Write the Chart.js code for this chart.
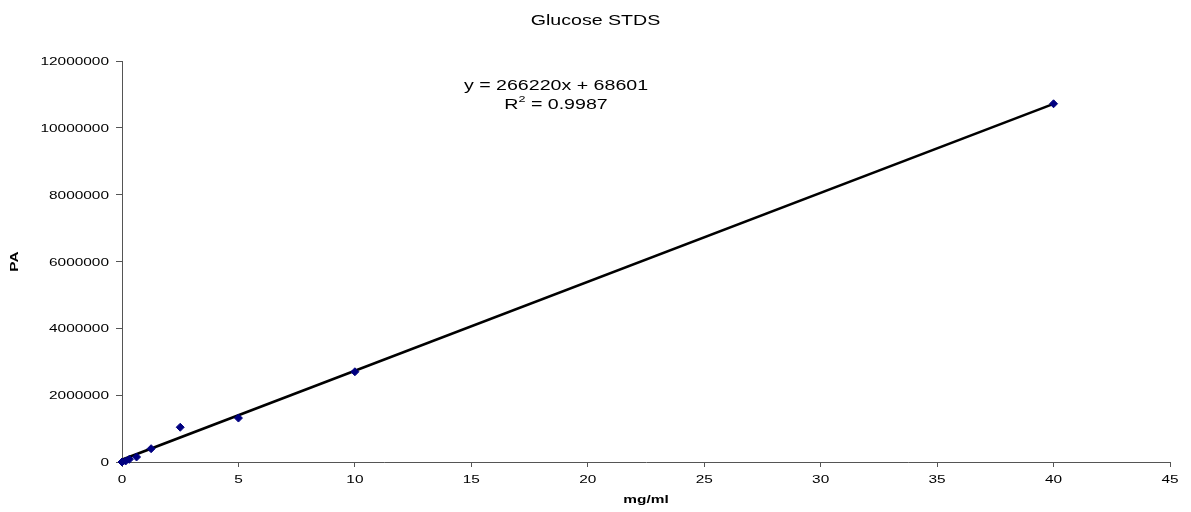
<!DOCTYPE html>
<html>
<head>
<meta charset="utf-8">
<script src="https://cdn.jsdelivr.net/npm/chart.js@4.4.0/dist/chart.umd.min.js"></script>
<style>
  html, body { margin: 0; padding: 0; background: #fff; }
  #wrap { width: 1191px; height: 512px; }
</style>
</head>
<body>
<div id="wrap"><canvas id="chart"></canvas></div>
<script>
// Standards: concentration (mg/ml) vs peak area
const conc = [0, 0.156, 0.3125, 0.625, 1.25, 2.5, 5, 10, 40];
const peakArea = [0, 30000, 80000, 150000, 398000, 1040000, 1315000, 2700000, 10720000];

// linear trendline reported on the chart
const slope = 266220;
const intercept = 68601;
const trendX = [0, 40];
const equationLines = ["y = 266220x + 68601", "R\u00b2 = 0.9987"];

const chartTitle = "Glucose STDS";
const xTitle = "mg/ml";
const yTitle = "PA";

const FONT = "'Liberation Sans', Arial, Helvetica, sans-serif";
const STRETCH = 1.4; // text in the original is drawn wide

const drawWide = (ctx, text, x, y, size, weight, align) => {
  ctx.save();
  ctx.font = `${weight} ${size}px ${FONT}`;
  ctx.fillStyle = "#000";
  ctx.textBaseline = "middle";
  ctx.translate(x, y);
  ctx.scale(STRETCH, 1);
  let w = ctx.measureText(text).width;
  let x0 = align === "right" ? -w : align === "center" ? -w / 2 : 0;
  ctx.textAlign = "left";
  ctx.fillText(text, x0, 0);
  ctx.restore();
};

const textPlugin = {
  id: "textPlugin",
  afterDraw(chart) {
    const ctx = chart.ctx;
    const area = chart.chartArea;
    const xs = chart.scales.x;
    const ys = chart.scales.y;

    // tick labels
    xs.ticks.forEach((t, i) => {
      drawWide(ctx, String(t.value), xs.getPixelForTick(i), area.bottom + 18, 11, "normal", "center");
    });
    ys.ticks.forEach((t, i) => {
      drawWide(ctx, String(t.value), area.left - 13, ys.getPixelForTick(i) + 1, 11, "normal", "right");
    });

    // titles
    drawWide(ctx, chartTitle, chart.width / 2, 21, 14, "normal", "center");
    drawWide(ctx, xTitle, (area.left + area.right) / 2, 500, 11, "bold", "center");
    ctx.save();
    ctx.translate(15, (area.top + area.bottom) / 2);
    ctx.rotate(-Math.PI / 2);
    drawWide(ctx, yTitle, 0, 0, 11, "bold", "center");
    ctx.restore();

    // equation
    const ex = 556;
    drawWide(ctx, equationLines[0], ex, 86, 14, "normal", "center");
    // R² line with raised 2
    ctx.save();
    ctx.font = `normal 14px ${FONT}`;
    const wR = ctx.measureText("R").width;
    const wRest = ctx.measureText(" = 0.9987").width;
    ctx.font = `normal 9px ${FONT}`;
    const w2 = ctx.measureText("2").width;
    ctx.restore();
    const total = (wR + w2 + wRest) * STRETCH;
    let sx = ex - total / 2;
    drawWide(ctx, "R", sx, 105, 14, "normal", "left");
    drawWide(ctx, "2", sx + wR * STRETCH, 100, 9, "normal", "left");
    drawWide(ctx, " = 0.9987", sx + (wR + w2) * STRETCH, 105, 14, "normal", "left");
  }
};

new Chart(document.getElementById("chart"), {
  type: "scatter",
  data: {
    datasets: [
      {
        label: "STDS",
        data: conc.map((x, i) => ({ x: x, y: peakArea[i] })),
        pointStyle: "rectRot",
        pointRadius: 4,
        backgroundColor: "#000080",
        borderColor: "#000080",
        borderWidth: 1,
        clip: false,
        order: 1
      },
      {
        label: "Linear",
        type: "line",
        data: trendX.map(x => ({ x: x, y: slope * x + intercept })),
        borderColor: "#000",
        borderWidth: 2.5,
        pointRadius: 0,
        fill: false,
        order: 2
      }
    ]
  },
  options: {
    responsive: true,
    maintainAspectRatio: false,
    animation: false,
    layout: { padding: { top: 61, right: 21, left: 0, bottom: 0 } },
    plugins: {
      legend: { display: false },
      tooltip: { enabled: false },
      title: { display: false }
    },
    scales: {
      x: {
        type: "linear",
        min: 0,
        max: 45,
        ticks: { stepSize: 5, display: false },
        grid: { drawOnChartArea: false, drawTicks: true, tickLength: 5, color: "#555" },
        border: { color: "#555", width: 1 },
        afterFit: s => { s.height = 50; }
      },
      y: {
        min: 0,
        max: 12000000,
        ticks: { stepSize: 2000000, display: false },
        grid: { drawOnChartArea: false, drawTicks: true, tickLength: 6, color: "#555" },
        border: { color: "#555", width: 1 },
        afterFit: s => { s.width = 122; }
      }
    }
  },
  plugins: [textPlugin]
});
</script>
</body>
</html>
